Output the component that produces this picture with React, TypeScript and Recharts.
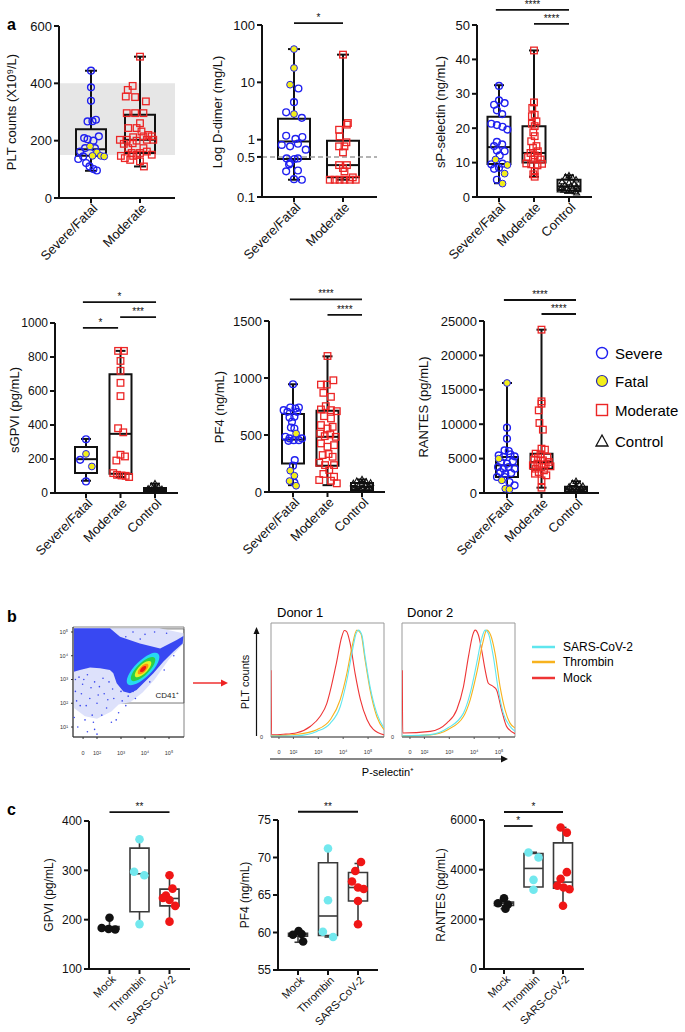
import React from 'react';
import { ComposedChart, Scatter, Line, XAxis, YAxis, ReferenceArea, ReferenceLine } from 'recharts';

const FONT = '"Liberation Sans", Arial, Helvetica, sans-serif';
const sup: Record<number, string> = { 1: '¹', 2: '²', 3: '³', 4: '⁴', 5: '⁵' };

// ---------- panel a : patient plasma ----------
const catsTwo = ['Severe/Fatal', 'Moderate'];
const catsThree = ['Severe/Fatal', 'Moderate', 'Control'];

// points are [jitter (category units), value]
const pltSevere = [[0, 444], [0, 386], [0, 339], [-0.07, 267], [0.03, 268], [0.1, 273], [-0.14, 209], [-0.07, 205], [0.05, 200], [0.16, 215], [-0.22, 162], [-0.12, 174], [0.08, 174], [-0.26, 136], [-0.16, 145], [-0.1, 122], [-0.03, 110], [0.05, 101], [0.12, 96]];
const pltFatal = [[-0.02, 180], [0.12, 159], [0.2, 147], [0.27, 145], [0.03, 147]];
const pltModerate = [[0, 493], [-0.15, 391], [-0.25, 377], [-0.1, 352], [-0.29, 354], [0.12, 337], [-0.1, 296], [-0.27, 296], [0.07, 296], [0, 261], [-0.07, 244], [-0.24, 244], [0.03, 232], [0.17, 220], [0.07, 215], [-0.14, 212], [0.24, 215], [-0.27, 203], [-0.41, 203], [-0.07, 200], [0.14, 203], [0.27, 203], [-0.33, 189], [-0.15, 191], [-0.24, 174], [0.07, 174], [0.14, 162], [0, 157], [-0.17, 157], [0.24, 151], [-0.07, 151], [-0.39, 147], [-0.31, 139], [-0.2, 133], [0, 128], [-0.14, 147], [0.08, 110]];
const pltStats = [
  { min: 95, q1: 147, med: 170, q3: 240, max: 444 },
  { min: 110, q1: 157, med: 203, q3: 290, max: 493 },
];
const pltTicks = [0, 200, 400, 600];
const pltRange = [150, 400];

const dimerSevere = [[0.09, 7.8], [0, 4.5], [-0.16, 3.0], [0.16, 2.4], [-0.16, 1.17], [0.03, 1.03], [0.17, 1.11], [-0.25, 0.81], [-0.08, 0.765], [0.08, 0.85], [0.24, 0.67], [-0.15, 0.47], [0.01, 0.46], [0.08, 0.47], [-0.08, 0.39], [-0.1, 0.37], [-0.16, 0.28], [0.08, 0.29], [0, 0.205], [0.16, 0.2]];
const dimerFatal = [[0, 38], [0, 17.8], [-0.08, 9.1], [0, 2.8]];
const dimerModerate = [[0, 30.4], [0.1, 1.95], [0.08, 1.83], [-0.08, 1.49], [-0.07, 1.14], [0.07, 0.9], [-0.08, 0.765], [0.03, 0.765], [0, 0.6], [-0.08, 0.36], [0.08, 0.36], [0, 0.32], [0.03, 0.28], [0.2, 0.22], [-0.27, 0.2], [-0.17, 0.2], [-0.07, 0.2], [0.03, 0.2], [0.14, 0.2], [0.26, 0.2]];
const dimerStats = [
  { min: 0.2, q1: 0.46, med: 0.93, q3: 2.32, max: 38 },
  { min: 0.2, q1: 0.22, med: 0.36, q3: 0.96, max: 30.4 },
];
const dimerTicks = [0.1, 0.5, 1, 10, 100];
const dimerCutoff = 0.5;
const dimerSig = [{ x1: 0, x2: 1, y: 108, text: '*' }];

const selSevere = [[0, 32.3], [0, 28.1], [-0.14, 26.8], [0.16, 27.3], [-0.06, 25.2], [0.09, 24.1], [-0.22, 21.3], [-0.06, 20.9], [0.1, 20.4], [0.24, 19.6], [-0.06, 16.0], [0.09, 15.3], [-0.14, 14.8], [0.16, 13.3], [-0.06, 13.5], [0.02, 12.1], [-0.22, 9.5], [0.1, 9.7], [0, 8.5], [-0.14, 8.2], [-0.06, 5.0]];
const selFatal = [[-0.1, 10.9], [0.24, 9.3], [0.16, 6.8], [0.1, 3.9]];
const selModerate = [[0, 42.6], [0, 27.5], [-0.05, 25.9], [0.02, 23.9], [-0.06, 23.5], [0.07, 22.0], [-0.06, 21.3], [0.02, 20.6], [-0.02, 18.8], [0.02, 17.7], [-0.08, 16.2], [0.07, 14.8], [-0.03, 14.3], [0.11, 13.3], [-0.1, 12.8], [0.02, 12.1], [-0.17, 11.6], [0.11, 11.7], [-0.03, 10.9], [0.19, 10.9], [-0.22, 9.75], [0.23, 9.65], [0.1, 9.2], [-0.08, 9.5], [0.02, 7.5], [-0.02, 6.6], [0.02, 5.9]];
const selControl = [[0, 6.2], [-0.1, 5.8], [0.1, 5.6], [0.2, 5.0], [-0.2, 4.5], [0, 4.2], [0.15, 3.8], [-0.12, 3.5], [0.05, 3.2], [0.22, 3.0], [-0.22, 2.8], [-0.05, 2.5], [0.1, 2.4], [0.25, 2.2], [-0.15, 2.0], [0, 1.9], [0.18, 1.6], [-0.25, 2.1], [0.22, 1.2]];
const selStats = [
  { min: 4, q1: 9.6, med: 14.5, q3: 23.3, max: 32.5 },
  { min: 5.9, q1: 10, med: 12.8, q3: 20.6, max: 42.6 },
  { min: 1.2, q1: 1.9, med: 3.1, q3: 5.0, max: 6.3 },
];
const selTicks = [0, 10, 20, 30, 40, 50];
const selSig = [
  { x1: -0.09, x2: 2, y: 54.4, text: '****' },
  { x1: 1, x2: 2, y: 50.3, text: '****' },
];

const gpviSevere = [[0, 316], [-0.17, 195], [0, 68]];
const gpviFatal = [[0, 230], [0.17, 156]];
const gpviModerate = [[-0.07, 836], [0.1, 836], [0, 777], [0, 719], [0, 648], [0, 570], [-0.07, 381], [0.08, 357], [0, 225], [0.13, 215], [-0.12, 191], [-0.21, 117], [-0.1, 107], [0.03, 103], [0.15, 101], [0.25, 94]];
const gpviControl = [[0, 55], [-0.1, 40], [0.1, 35], [0, 30], [-0.2, 25], [0.2, 22], [0, 20], [-0.1, 15], [0.15, 14], [0.25, 10], [-0.25, 10], [0.05, 8], [-0.15, 5], [0.2, 4]];
const gpviStats = [
  { min: 72, q1: 117, med: 199, q3: 270, max: 318 },
  { min: 94, q1: 113, med: 348, q3: 699, max: 836 },
  { min: 3, q1: 10, med: 18, q3: 30, max: 55 },
];
const gpviTicks = [0, 200, 400, 600, 800, 1000];
const gpviSig = [
  { x1: -0.09, x2: 0.93, y: 971, text: '*' },
  { x1: 0.99, x2: 2.03, y: 1035, text: '***' },
  { x1: -0.09, x2: 2.03, y: 1123, text: '*' },
];

const pf4Severe = [[0, 945], [-0.08, 741], [0.07, 732], [0.17, 741], [-0.27, 718], [-0.16, 703], [0.12, 703], [0.04, 659], [-0.1, 653], [-0.03, 616], [-0.06, 566], [0.04, 557], [-0.22, 484], [-0.1, 470], [0.02, 455], [0.17, 455], [0.26, 470], [-0.13, 449], [0.05, 280], [0, 231], [0.04, 82]];
const pf4Fatal = [[0.09, 513], [-0.08, 187], [0.04, 143], [-0.1, 96], [0.09, 55]];
const pf4Moderate = [[0, 1193], [-0.19, 942], [-0.02, 942], [0.17, 980], [-0.12, 870], [0.1, 835], [-0.05, 753], [-0.19, 724], [0.1, 718], [0.27, 709], [-0.1, 665], [0.1, 645], [-0.19, 587], [0, 557], [0.15, 572], [-0.21, 513], [-0.08, 490], [0.08, 505], [0.24, 484], [-0.19, 426], [0, 397], [0.19, 411], [-0.14, 324], [0.03, 333], [0.15, 309], [-0.24, 257], [-0.07, 236], [0.19, 236], [0.05, 193], [-0.12, 158], [-0.24, 105], [0.19, 134], [0.1, 99], [0.27, 76]];
const pf4Control = [[0, 110], [-0.15, 95], [0.12, 90], [0.25, 80], [-0.25, 75], [0, 70], [0.1, 60], [-0.1, 50], [0.2, 45], [-0.2, 40], [0, 35], [0.15, 30], [-0.05, 25], [0.25, 20], [-0.2, 15], [0.08, 10], [-0.12, 5]];
const pf4Stats = [
  { min: 60, q1: 251, med: 460, q3: 684, max: 945 },
  { min: 60, q1: 231, med: 484, q3: 712, max: 1190 },
  { min: 0, q1: 15, med: 45, q3: 80, max: 110 },
];
const pf4Ticks = [0, 500, 1000, 1500];
const pf4Sig = [
  { x1: -0.09, x2: 2, y: 1690, text: '****' },
  { x1: 1, x2: 2, y: 1553, text: '****' },
];

const rantesSevere = [[0, 9496], [0, 7897], [-0.07, 6202], [0.05, 6105], [-0.24, 5475], [-0.1, 5233], [0.1, 5620], [0.22, 5330], [-0.17, 4506], [0, 4264], [0.17, 4603], [-0.26, 3779], [-0.1, 3537], [0.05, 3779], [0.22, 3537], [-0.19, 3052], [-0.05, 2810], [0.12, 2907], [-0.29, 2326], [-0.07, 2326], [0.07, 1599], [0.22, 1114]];
const rantesFatal = [[0, 15988], [-0.24, 4990], [-0.15, 1841], [-0.05, 630], [0.07, 533]];
const rantesModerate = [[0, 23740], [0, 13324], [0, 12985], [-0.08, 12016], [-0.06, 10175], [0.04, 9206], [0, 6444], [0.1, 6299], [-0.17, 5717], [-0.03, 5620], [0.17, 5233], [-0.1, 5136], [-0.22, 4845], [0.04, 4748], [0.21, 4506], [-0.12, 4264], [0.12, 4167], [-0.25, 4021], [0, 3779], [-0.17, 3537], [0.26, 3876], [0.07, 3295], [-0.08, 3052], [-0.19, 2810], [0.14, 2568], [0, 1841], [0, 775]];
const rantesControl = [[0, 1700], [-0.1, 1400], [0.1, 1200], [0.2, 1000], [-0.2, 900], [0, 800], [0.15, 700], [-0.15, 600], [0.05, 500], [0.25, 400], [-0.25, 350], [0, 300], [0.12, 250], [-0.1, 200], [0.2, 150], [-0.18, 100], [0.05, 60]];
const rantesStats = [
  { min: 600, q1: 2326, med: 4021, q3: 5233, max: 15988 },
  { min: 775, q1: 3537, med: 4506, q3: 5717, max: 23740 },
  { min: 0, q1: 150, med: 500, q3: 900, max: 1700 },
];
const rantesTicks = [0, 5000, 10000, 15000, 20000, 25000];
const rantesSig = [
  { x1: -0.09, x2: 2, y: 28050, text: '****' },
  { x1: 1, x2: 2, y: 26020, text: '****' },
];

// ---------- panel b : flow cytometry ----------
// density plot regions, in decades (log10 of fluorescence)
const densSparse = [[1.04, 5.16], [4.6, 5.16], [5.6, 4.95], [5.6, 4.5], [5.0, 3.85], [4.4, 3.0], [3.9, 2.45], [3.4, 2.05], [2.9, 1.95], [2.6, 1.65], [2.0, 1.35], [1.5, 1.45], [1.04, 1.8]];
const densDense = [[1.04, 5.16], [2.54, 5.16], [2.96, 4.8], [3.79, 4.52], [4.63, 4.31], [5.32, 4.66], [5.6, 4.83], [5.57, 4.52], [5.18, 4.17], [4.76, 3.75], [4.35, 3.26], [3.93, 2.84], [3.65, 2.56], [3.375, 2.42], [3.1, 2.49], [2.82, 2.84], [2.68, 3.26], [2.54, 3.4], [2.125, 3.47], [1.71, 3.51], [1.29, 3.4], [1.04, 3.33]];
const densCyan = [[4.627, 4.147], [4.23, 4.13], [3.651, 3.709], [3.23, 3.13], [3.213, 2.733], [3.61, 2.75], [4.189, 3.171], [4.61, 3.75]];
const densGreen = [[4.45, 3.97], [4.155, 3.955], [3.722, 3.638], [3.405, 3.205], [3.39, 2.91], [3.685, 2.925], [4.118, 3.242], [4.435, 3.675]];
const densYellow = [[4.274, 3.794], [4.07, 3.79], [3.779, 3.581], [3.57, 3.29], [3.566, 3.086], [3.77, 3.09], [4.061, 3.299], [4.27, 3.59]];
const densOrange = [[4.146, 3.666], [4.01, 3.67], [3.821, 3.539], [3.69, 3.35], [3.694, 3.214], [3.83, 3.21], [4.019, 3.341], [4.15, 3.53]];
const densRed = [[4.047, 3.567], [3.965, 3.575], [3.856, 3.504], [3.785, 3.395], [3.793, 3.313], [3.875, 3.305], [3.984, 3.376], [4.055, 3.485]];
const densDots = [[1.2, 1.0], [1.5, 1.3], [1.9, 0.9], [2.2, 1.5], [1.3, 1.9], [1.7, 2.2], [2.0, 2.0], [2.4, 1.8], [1.1, 2.5], [1.4, 2.8], [2.6, 1.2], [2.9, 1.6], [1.8, 1.5], [2.3, 2.4], [1.6, 0.8], [3.2, 1.9], [1.05, 1.4], [2.1, 2.7], [2.7, 2.2], [3.0, 2.5], [1.25, 3.1], [3.6, 2.2], [4.8, 3.4], [5.2, 4.0], [4.2, 2.9], [2.0, 0.7], [3.5, 5.0], [4.0, 4.9], [4.4, 5.0], [3.2, 4.8], [4.9, 4.95], [3.8, 4.7], [1.6, 3.2], [1.9, 2.9], [2.5, 2.9], [1.15, 2.1], [2.8, 1.3], [3.3, 2.3], [1.35, 2.4], [1.55, 1.9], [2.05, 2.35], [2.45, 2.15], [1.75, 2.65], [2.25, 3.05], [1.45, 3.0], [2.65, 2.6], [3.05, 2.1], [3.5, 2.5], [1.1, 3.0], [1.85, 1.2]];
const densGate = { x1: 2.54, x2: 5.62, y1: 2.01, y2: 5.13 };
const flowTicks = [1.42, 2, 3, 4, 5];
const densYTicks = [1, 2, 3, 4, 5];

// P-selectin histograms: [decade, % of mode]
const d1Mock = [[1.1, 62], [1.12, 2], [1.6, 2.5], [2.14, 4], [2.69, 10], [3.07, 19], [3.34, 31], [3.46, 41], [3.73, 69], [3.94, 93], [4.05, 99], [4.14, 98], [4.28, 87], [4.48, 59], [4.69, 35], [4.96, 16], [5.21, 7], [5.64, 2]];
const d1Sars = [[1.1, 1], [1.6, 1], [2.14, 1.2], [2.94, 5.2], [3.48, 12.7], [3.88, 28.1], [4.15, 53], [4.35, 77.8], [4.52, 96.3], [4.61, 99.4], [4.75, 94.8], [4.88, 74.7], [5.08, 46.9], [5.35, 22.2], [5.64, 8.3]];
const d1Thrombin = [[1.1, 1], [2.14, 2.5], [2.94, 6.8], [3.48, 16], [3.88, 34.6], [4.15, 59.3], [4.35, 83.3], [4.55, 99.4], [4.71, 96.3], [4.88, 71.6], [5.08, 43.8], [5.35, 19.1], [5.64, 6.8]];
const d2Mock = [[1.11, 62], [1.13, 3.7], [2.235, 5.2], [2.9, 12.9], [3.3, 25.3], [3.57, 46.9], [3.77, 74.7], [3.94, 94.8], [4.04, 99.4], [4.17, 94.8], [4.3, 80.9], [4.44, 62.4], [4.57, 50], [4.77, 46.9], [4.9, 43.8], [5.1, 25.3], [5.3, 9.9], [5.64, 3.1]];
const d2Sars = [[1.11, 1], [2.235, 2.2], [2.94, 8.3], [3.57, 22.2], [3.84, 40.7], [4.1, 68.5], [4.3, 91.4], [4.44, 99.4], [4.57, 96.3], [4.77, 74.7], [4.97, 43.8], [5.17, 22.2], [5.44, 9.9], [5.64, 5.2]];
const d2Thrombin = [[1.11, 1], [2.235, 2], [2.94, 6.8], [3.57, 19.1], [3.84, 34.6], [4.1, 59.3], [4.34, 87], [4.5, 99.4], [4.66, 94.8], [4.84, 77.8], [5.04, 46.9], [5.24, 25.3], [5.44, 12.9], [5.64, 8.3]];

// ---------- panel c : stimulated platelets ----------
const stimCats = ['Mock', 'Thrombin', 'SARS-CoV-2'];
const cGpviMock = [[0, 204], [-0.26, 183], [0.19, 180], [-0.03, 181]];
const cGpviThr = [[0, 363], [-0.18, 297], [0.16, 290], [0, 191]];
const cGpviSars = [[0, 290], [0.1, 263], [-0.12, 249], [-0.22, 244], [0, 240], [0.19, 228], [0, 196]];
const cGpviStats = [
  { min: 180, q1: 181, med: 183, q3: 186, max: 204 },
  { min: 191, q1: 216, med: 293, q3: 345, max: 363 },
  { min: 196, q1: 228, med: 243, q3: 262, max: 290 },
];
const cGpviTicks = [100, 200, 300, 400];
const cGpviSig = [{ x1: 0, x2: 2, y: 418, text: '**' }];

const cPf4Mock = [[0.02, 60.2], [-0.17, 59.7], [0.12, 59.8], [0.17, 58.8]];
const cPf4Thr = [[0, 71.2], [0, 64.3], [-0.17, 60.1], [0.17, 59.4]];
const cPf4Sars = [[0.1, 69.4], [-0.09, 68.2], [-0.2, 66.8], [0, 66.0], [0.19, 65.8], [0, 64.2], [0, 61.1]];
const cPf4Stats = [
  { min: 58.7, q1: 59.5, med: 59.7, q3: 59.9, max: 60.2 },
  { min: 59.4, q1: 59.6, med: 62.2, q3: 69.3, max: 71.1 },
  { min: 61.1, q1: 64.2, med: 66.0, q3: 68.0, max: 69.2 },
];
const cPf4Ticks = [55, 60, 65, 70, 75];
const cPf4Sig = [{ x1: 0, x2: 2, y: 76.1, text: '**' }];

const cRantesMock = [[0, 2850], [-0.2, 2650], [0.13, 2600], [0.05, 2430]];
const cRantesThr = [[-0.17, 4690], [0.17, 4490], [0, 3590], [0, 3190]];
const cRantesSars = [[-0.08, 5700], [0.13, 5490], [0.13, 3900], [-0.08, 3630], [-0.19, 3350], [0.02, 3280], [0.22, 3210], [0, 2545]];
const cRantesStats = [
  { min: 2430, q1: 2560, med: 2650, q3: 2700, max: 2850 },
  { min: 3190, q1: 3300, med: 4050, q3: 4650, max: 4700 },
  { min: 2545, q1: 3250, med: 3500, q3: 5080, max: 5700 },
];
const cRantesTicks = [0, 2000, 4000, 6000];
const cRantesSig = [
  { x1: 0, x2: 2, y: 6322, text: '*' },
  { x1: 0, x2: 0.97, y: 5758, text: '*' },
];

// ---------- helpers ----------
type Frame = { x: number; y: number; w: number; h: number; l: number; t: number; r: number; b: number };
type Stat = { min: number; q1: number; med: number; q3: number; max: number };
type Series = { pts: number[][]; kind: string };
type Sig = { x1: number; x2: number; y: number; text: string };

const toXY = (pts: number[][], base = 0) => pts.map(([dx, v]) => ({ x: base + dx, y: v }));
const noShape = () => <g />;

function marker(kind: string) {
  return (p: any) => {
    const { cx, cy } = p;
    if (cx == null || cy == null) return <g />;
    switch (kind) {
      case 'sev':
        return <circle cx={cx} cy={cy} r={3.4} fill="none" stroke="#2020f0" strokeWidth={1.4} />;
      case 'fatal':
        return <circle cx={cx} cy={cy} r={3.4} fill="#f2ee1a" stroke="#2020f0" strokeWidth={1} />;
      case 'mod':
        return <rect x={cx - 3.3} y={cy - 3.3} width={6.6} height={6.6} fill="none" stroke="#ec2626" strokeWidth={1.3} />;
      case 'ctl':
        return <path d={`M${cx},${cy - 3.2}L${cx + 3},${cy + 2.2}L${cx - 3},${cy + 2.2}Z`} fill="none" stroke="#111" strokeWidth={1.1} />;
      case 'mock':
        return <circle cx={cx} cy={cy} r={4.3} fill="#111" />;
      case 'thr':
        return <circle cx={cx} cy={cy} r={4.3} fill="#72e8ee" />;
      default:
        return <circle cx={cx} cy={cy} r={4.3} fill="#f01616" />;
    }
  };
}

function RotTick(props: any) {
  const { x, y, payload, labels, fs } = props;
  const tx = x + 4;
  const ty = y + 1;
  return (
    <text x={tx} y={ty} transform={`rotate(-45 ${tx} ${ty})`} textAnchor="end" dominantBaseline="central" fontSize={fs} fontFamily={FONT} fill="#111">
      {labels[Math.round(payload.value)]}
    </text>
  );
}

const starLabel = (text: string) => (p: any) => {
  const vb = p.viewBox || {};
  return (
    <text x={vb.x + vb.width / 2} y={vb.y - 2} textAnchor="middle" fontSize={10} fontFamily={FONT} fill="#111" stroke="none">{text}</text>
  );
};

function BoxPanel(props: {
  f: Frame; cats: string[]; catPx: number[]; yDomain: number[]; yTicks: number[]; log?: boolean;
  stats: Stat[]; groups: Series[][]; sigs: Sig[]; boxPx: number; capPx: number; small?: boolean;
  band?: number[]; dashY?: number; tickFs?: number;
}) {
  const { f, cats, catPx, yDomain, yTicks, log, stats, groups, sigs, boxPx, capPx, small, band, dashY, tickFs } = props;
  const unit = (catPx[catPx.length - 1] - catPx[0]) / (catPx.length - 1);
  const xDomain = [(f.l - catPx[0]) / unit, (f.r - catPx[0]) / unit];
  const bw = boxPx / unit;
  const cw = capPx / unit;
  const ink = small ? '#3a3a3a' : '#111';
  const lw = small ? 1.6 : 2;
  const axis = { stroke: '#111', strokeWidth: 2 };
  return (
    <div style={{ position: 'absolute', left: f.x, top: f.y }}>
      <ComposedChart width={f.w} height={f.h} margin={{ top: f.t - f.y, right: f.x + f.w - f.r, bottom: 0, left: 0 }}>
        <XAxis type="number" dataKey="x" domain={xDomain} allowDataOverflow ticks={cats.map((_, i) => i)} interval={0}
          height={f.y + f.h - f.b} tickSize={5} axisLine={axis} tickLine={axis}
          tick={<RotTick labels={cats} fs={small ? 11 : 13} />} />
        <YAxis type="number" dataKey="y" scale={log ? 'log' : 'linear'} domain={yDomain} allowDataOverflow ticks={yTicks} interval={0}
          width={f.l - f.x} tickSize={5} axisLine={axis} tickLine={axis}
          tick={{ fontSize: tickFs || (small ? 12 : 13), fill: '#111', fontFamily: FONT }} tickFormatter={(v: number) => String(v)} />
        {band && <ReferenceArea x1={xDomain[0]} x2={xDomain[1]} y1={band[0]} y2={band[1]} fill="#e6e6e6" fillOpacity={1} stroke="none" ifOverflow="visible" />}
        {dashY != null && <ReferenceLine y={dashY} stroke="#9a9a9a" strokeWidth={1.6} strokeDasharray="5 3" ifOverflow="visible" />}
        {stats.map((s, i) => (
          <React.Fragment key={'s' + i}>
            <ReferenceLine segment={[{ x: i, y: s.min }, { x: i, y: s.q1 }]} stroke={ink} strokeWidth={lw} ifOverflow="visible" />
            <ReferenceLine segment={[{ x: i, y: s.q3 }, { x: i, y: s.max }]} stroke={ink} strokeWidth={lw} ifOverflow="visible" />
            <ReferenceLine segment={[{ x: i - cw, y: s.min }, { x: i + cw, y: s.min }]} stroke={ink} strokeWidth={lw} ifOverflow="visible" />
            <ReferenceLine segment={[{ x: i - cw, y: s.max }, { x: i + cw, y: s.max }]} stroke={ink} strokeWidth={lw} ifOverflow="visible" />
            <ReferenceArea x1={i - bw} x2={i + bw} y1={s.q1} y2={s.q3} fill="none" stroke={ink} strokeWidth={lw} ifOverflow="visible" />
            <ReferenceLine segment={[{ x: i - bw, y: s.med }, { x: i + bw, y: s.med }]} stroke={ink} strokeWidth={lw} ifOverflow="visible" />
          </React.Fragment>
        ))}
        {groups.map((g, i) => g.map((se, j) => (
          <Scatter key={`p${i}-${j}`} data={toXY(se.pts, i)} shape={marker(se.kind)} isAnimationActive={false} />
        )))}
        {sigs.map((s, i) => (
          <ReferenceLine key={'g' + i} segment={[{ x: s.x1, y: s.y }, { x: s.x2, y: s.y }]} stroke="#111" strokeWidth={1.8} ifOverflow="visible"
            label={starLabel(s.text)} />
        ))}
      </ComposedChart>
    </div>
  );
}

function flowLabel(v: number) {
  return v < 1.9 ? '0' : '10' + sup[v];
}

function DensityPlot({ f }: { f: Frame }) {
  const xd = [1.0, 5.625];
  const yd = [0.58, 5.21];
  const blob = [
    { pts: densSparse, color: '#dde1fb', joint: 'linearClosed' },
    { pts: densDense, color: '#3848f2', joint: 'linearClosed' },
    { pts: densCyan, color: '#27d8f2', joint: 'basisClosed' },
    { pts: densGreen, color: '#2bd046', joint: 'basisClosed' },
    { pts: densYellow, color: '#e9f226', joint: 'basisClosed' },
    { pts: densOrange, color: '#ff9010', joint: 'basisClosed' },
    { pts: densRed, color: '#ee1a12', joint: 'basisClosed' },
  ];
  return (
    <div style={{ position: 'absolute', left: f.x, top: f.y }}>
      <ComposedChart width={f.w} height={f.h} margin={{ top: f.t - f.y, right: f.x + f.w - f.r, bottom: 0, left: 0 }}>
        <XAxis type="number" dataKey="x" domain={xd} allowDataOverflow ticks={flowTicks} interval={0} height={f.y + f.h - f.b}
          tickSize={2} tickMargin={12} axisLine={{ stroke: '#333' }} tickLine={{ stroke: '#333' }}
          tick={{ fontSize: 5.5, fill: '#333', fontFamily: FONT }} tickFormatter={flowLabel} />
        <YAxis type="number" dataKey="y" domain={yd} allowDataOverflow ticks={densYTicks} interval={0} width={f.l - f.x}
          tickSize={2} tickMargin={3} axisLine={{ stroke: '#333' }} tickLine={{ stroke: '#333' }}
          tick={{ fontSize: 5.5, fill: '#333', fontFamily: FONT }} tickFormatter={(v: number) => '10' + sup[v]} />
        {blob.map((b, i) => (
          <Scatter key={'d' + i} data={toXY(b.pts)} fill={b.color} line={{ fill: b.color, stroke: 'none' }}
            lineJointType={b.joint as any} shape={noShape} isAnimationActive={false} />
        ))}
        <Scatter data={toXY(densDots)} shape={(p: any) => <circle cx={p.cx} cy={p.cy} r={0.8} fill="#3a48ee" />} isAnimationActive={false} />
        <ReferenceArea x1={xd[0]} x2={xd[1]} y1={yd[0]} y2={yd[1]} fill="none" stroke="#666" strokeWidth={0.8} ifOverflow="visible" />
        <ReferenceArea x1={densGate.x1} x2={densGate.x2} y1={densGate.y1} y2={densGate.y2} fill="none" stroke="#555" strokeWidth={0.8} ifOverflow="visible"
          label={{ value: 'CD41⁺', position: 'insideBottomRight', offset: 5, fontSize: 8, fill: '#222', fontFamily: FONT }} />
      </ComposedChart>
    </div>
  );
}

function Histogram({ f, curves }: { f: Frame; curves: { pts: number[][]; color: string }[] }) {
  const xd = [1.1, 5.64];
  const yd = [0, 106];
  return (
    <div style={{ position: 'absolute', left: f.x, top: f.y }}>
      <ComposedChart width={f.w} height={f.h} margin={{ top: f.t - f.y, right: f.x + f.w - f.r, bottom: 0, left: 0 }}>
        <XAxis type="number" dataKey="x" domain={xd} allowDataOverflow ticks={flowTicks} interval={0} height={f.y + f.h - f.b}
          tickSize={2} tickMargin={11} axisLine={{ stroke: '#555' }} tickLine={{ stroke: '#555' }}
          tick={{ fontSize: 5.5, fill: '#333', fontFamily: FONT }} tickFormatter={flowLabel} />
        <YAxis type="number" dataKey="y" domain={yd} allowDataOverflow ticks={[0]} width={f.l - f.x}
          axisLine={false} tickLine={false} tick={{ fontSize: 5.5, fill: '#333', fontFamily: FONT }} />
        <ReferenceArea x1={xd[0]} x2={xd[1]} y1={yd[0]} y2={yd[1]} fill="none" stroke="#999" strokeWidth={1} ifOverflow="visible" />
        {curves.map((c, i) => (
          <Line key={'h' + i} data={toXY(c.pts)} dataKey="y" type="monotone" stroke={c.color} strokeWidth={1.1} dot={false} isAnimationActive={false} />
        ))}
      </ComposedChart>
    </div>
  );
}

function VText({ x, y, text, fs }: { x: number; y: number; text: string; fs: number }) {
  return (
    <text x={x} y={y} transform={`rotate(-90 ${x} ${y})`} textAnchor="middle" dominantBaseline="central" fontSize={fs} fill="#111">{text}</text>
  );
}

const SARS_C = '#5fe6ee';
const THR_C = '#f7b21e';
const MOCK_C = '#ee3535';

export default function App() {
  return (
    <div style={{ position: 'absolute', left: 0, top: 0, width: 685, height: 1032, background: '#fff', fontFamily: FONT, overflow: 'hidden' }}>
      <style>{'.recharts-surface{overflow:visible}'}</style>

      <BoxPanel f={{ x: 0, y: 0, w: 190, h: 290, l: 59, t: 26, r: 175, b: 198 }} cats={catsTwo} catPx={[91, 140]}
        yDomain={[0, 600]} yTicks={pltTicks} stats={pltStats} band={pltRange} boxPx={15} capPx={6} sigs={[]}
        groups={[[{ pts: pltSevere, kind: 'sev' }, { pts: pltFatal, kind: 'fatal' }], [{ pts: pltModerate, kind: 'mod' }]]} />
      <BoxPanel f={{ x: 215, y: 0, w: 175, h: 290, l: 262, t: 25, r: 377, b: 197 }} cats={catsTwo} catPx={[294, 343]}
        yDomain={[0.1, 100]} yTicks={dimerTicks} log stats={dimerStats} dashY={dimerCutoff} boxPx={16} capPx={6} sigs={dimerSig}
        groups={[[{ pts: dimerSevere, kind: 'sev' }, { pts: dimerFatal, kind: 'fatal' }], [{ pts: dimerModerate, kind: 'mod' }]]} />
      <BoxPanel f={{ x: 430, y: 0, w: 170, h: 290, l: 477, t: 25, r: 592, b: 197 }} cats={catsThree} catPx={[499, 534, 569]}
        yDomain={[0, 50]} yTicks={selTicks} stats={selStats} boxPx={11.5} capPx={5} sigs={selSig}
        groups={[[{ pts: selSevere, kind: 'sev' }, { pts: selFatal, kind: 'fatal' }], [{ pts: selModerate, kind: 'mod' }], [{ pts: selControl, kind: 'ctl' }]]} />

      <BoxPanel f={{ x: 0, y: 290, w: 190, h: 270, l: 55, t: 323, r: 178, b: 493 }} cats={catsThree} catPx={[86, 121, 155]}
        yDomain={[0, 1000]} yTicks={gpviTicks} stats={gpviStats} boxPx={11} capPx={5} sigs={gpviSig} tickFs={12}
        groups={[[{ pts: gpviSevere, kind: 'sev' }, { pts: gpviFatal, kind: 'fatal' }], [{ pts: gpviModerate, kind: 'mod' }], [{ pts: gpviControl, kind: 'ctl' }]]} />
      <BoxPanel f={{ x: 215, y: 290, w: 180, h: 270, l: 269, t: 321, r: 385, b: 492 }} cats={catsThree} catPx={[293, 327.5, 362]}
        yDomain={[0, 1500]} yTicks={pf4Ticks} stats={pf4Stats} boxPx={11} capPx={5} sigs={pf4Sig}
        groups={[[{ pts: pf4Severe, kind: 'sev' }, { pts: pf4Fatal, kind: 'fatal' }], [{ pts: pf4Moderate, kind: 'mod' }], [{ pts: pf4Control, kind: 'ctl' }]]} />
      <BoxPanel f={{ x: 430, y: 290, w: 180, h: 270, l: 484, t: 321, r: 599, b: 493 }} cats={catsThree} catPx={[507, 541.5, 576]}
        yDomain={[0, 25000]} yTicks={rantesTicks} stats={rantesStats} boxPx={11} capPx={5} sigs={rantesSig}
        groups={[[{ pts: rantesSevere, kind: 'sev' }, { pts: rantesFatal, kind: 'fatal' }], [{ pts: rantesModerate, kind: 'mod' }], [{ pts: rantesControl, kind: 'ctl' }]]} />

      <DensityPlot f={{ x: 50, y: 620, w: 140, h: 140, l: 73, t: 627, r: 184, b: 737 }} />
      <Histogram f={{ x: 255, y: 615, w: 135, h: 145, l: 271, t: 623, r: 384, b: 737 }}
        curves={[{ pts: d1Mock, color: MOCK_C }, { pts: d1Thrombin, color: THR_C }, { pts: d1Sars, color: SARS_C }]} />
      <Histogram f={{ x: 388, y: 615, w: 135, h: 145, l: 402, t: 623, r: 515, b: 737 }}
        curves={[{ pts: d2Mock, color: MOCK_C }, { pts: d2Thrombin, color: THR_C }, { pts: d2Sars, color: SARS_C }]} />

      <BoxPanel f={{ x: 20, y: 790, w: 180, h: 242, l: 89, t: 821, r: 190, b: 969 }} cats={stimCats} catPx={[109.5, 139.5, 169.5]}
        yDomain={[100, 400]} yTicks={cGpviTicks} stats={cGpviStats} boxPx={9.5} capPx={3.5} small sigs={cGpviSig}
        groups={[[{ pts: cGpviMock, kind: 'mock' }], [{ pts: cGpviThr, kind: 'thr' }], [{ pts: cGpviSars, kind: 'sars' }]]} />
      <BoxPanel f={{ x: 220, y: 790, w: 170, h: 242, l: 278, t: 820, r: 378, b: 970 }} cats={stimCats} catPx={[298, 328, 358]}
        yDomain={[55, 75]} yTicks={cPf4Ticks} stats={cPf4Stats} boxPx={9.5} capPx={3.5} small sigs={cPf4Sig}
        groups={[[{ pts: cPf4Mock, kind: 'mock' }], [{ pts: cPf4Thr, kind: 'thr' }], [{ pts: cPf4Sars, kind: 'sars' }]]} />
      <BoxPanel f={{ x: 430, y: 790, w: 170, h: 242, l: 484, t: 820, r: 584, b: 969 }} cats={stimCats} catPx={[504, 533.5, 563]}
        yDomain={[0, 6000]} yTicks={cRantesTicks} stats={cRantesStats} boxPx={9.5} capPx={3.5} small sigs={cRantesSig}
        groups={[[{ pts: cRantesMock, kind: 'mock' }], [{ pts: cRantesThr, kind: 'thr' }], [{ pts: cRantesSars, kind: 'sars' }]]} />

      {/* labels, legends and arrows */}
      <svg width={685} height={1032} style={{ position: 'absolute', left: 0, top: 0, pointerEvents: 'none', overflow: 'visible' }} fontFamily={FONT}>
        <text x={7} y={30} fontSize={16} fontWeight="bold">a</text>
        <text x={7} y={622} fontSize={16} fontWeight="bold">b</text>
        <text x={7} y={815} fontSize={16} fontWeight="bold">c</text>

        <VText x={11} y={112} text="PLT counts (X10⁹/L)" fs={13} />
        <VText x={217} y={112} text="Log D-dimer (mg/L)" fs={13} />
        <VText x={440} y={112} text="sP-selectin (ng/mL)" fs={13} />
        <VText x={14} y={410} text="sGPVI (pg/mL)" fs={13} />
        <VText x={219} y={407} text="PF4 (ng/mL)" fs={13} />
        <VText x={423} y={407} text="RANTES (pg/mL)" fs={13} />
        <VText x={49} y={895} text="GPVI (pg/mL)" fs={12} />
        <VText x={245} y={895} text="PF4 (ng/mL)" fs={12} />
        <VText x={441} y={895} text="RANTES (pg/mL)" fs={12} />

        <circle cx={602} cy={353} r={5.5} fill="none" stroke="#2020f0" strokeWidth={1.4} />
        <text x={615} y={353} fontSize={15} dominantBaseline="central">Severe</text>
        <circle cx={602} cy={381} r={5.5} fill="#f2ee1a" stroke="#2a2ab0" strokeWidth={1.2} />
        <text x={615} y={381} fontSize={15} dominantBaseline="central">Fatal</text>
        <rect x={596.5} y={404.5} width={11} height={11} fill="none" stroke="#ec2626" strokeWidth={1.4} />
        <text x={615} y={410} fontSize={15} dominantBaseline="central">Moderate</text>
        <path d="M602,435L608,446L596,446Z" fill="none" stroke="#111" strokeWidth={1.3} />
        <text x={615} y={441} fontSize={15} dominantBaseline="central">Control</text>

        <line x1={193} y1={683} x2={223} y2={683} stroke="#ee2222" strokeWidth={1.4} />
        <path d="M228,683L221,679.5L221,686.5Z" fill="#ee2222" />

        <text x={277} y={617} fontSize={13}>Donor 1</text>
        <text x={407} y={617} fontSize={13}>Donor 2</text>
        <VText x={245} y={682} text="PLT counts" fs={11} />
        <line x1={256.5} y1={736} x2={256.5} y2={633} stroke="#111" strokeWidth={1.2} />
        <path d="M256.5,627L253.5,634L259.5,634Z" fill="#111" />
        <line x1={270} y1={759} x2={502} y2={759} stroke="#111" strokeWidth={1.2} />
        <path d="M508,759L501,755.5L501,762.5Z" fill="#111" />
        <text x={388} y={772} fontSize={11} textAnchor="middle" dominantBaseline="central">P-selectin⁺</text>

        <line x1={532} y1={647} x2={555} y2={647} stroke={SARS_C} strokeWidth={2.5} />
        <text x={563} y={647} fontSize={12} dominantBaseline="central">SARS-CoV-2</text>
        <line x1={532} y1={662} x2={555} y2={662} stroke={THR_C} strokeWidth={2.5} />
        <text x={563} y={662} fontSize={12} dominantBaseline="central">Thrombin</text>
        <line x1={532} y1={678} x2={555} y2={678} stroke={MOCK_C} strokeWidth={2.5} />
        <text x={563} y={678} fontSize={12} dominantBaseline="central">Mock</text>
      </svg>
    </div>
  );
}
